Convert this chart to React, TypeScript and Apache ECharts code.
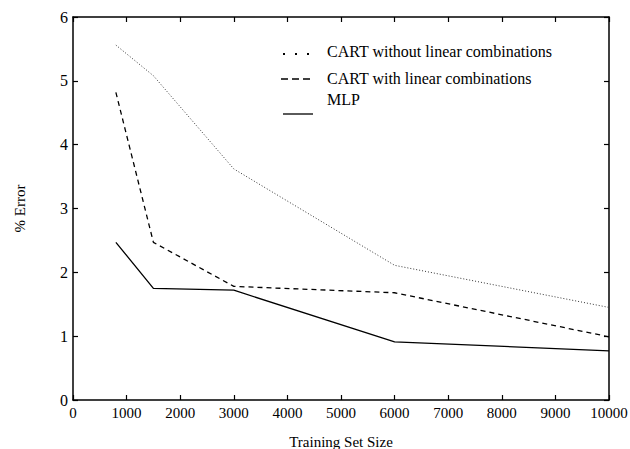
import React, { useEffect, useRef } from "react";
import * as echarts from "echarts";

const trainingSizes = [800, 1500, 3000, 6000, 10000];
const cartWithout = [5.56, 5.08, 3.62, 2.11, 1.45];
const cartWith = [4.82, 2.47, 1.78, 1.68, 0.99];
const mlp = [2.47, 1.75, 1.72, 0.91, 0.77];
const legendLabels = ["CART without linear combinations", "CART with linear combinations", "MLP"];

const FONT = "Liberation Serif";

export default function App() {
  const ref = useRef<HTMLDivElement>(null);
  useEffect(() => {
    if (!ref.current) return;
    const chart = echarts.init(ref.current, null, { renderer: "svg" });
    const pair = (ys: number[]) => trainingSizes.map((x, i) => [x, ys[i]]);
    const axisLine = { show: true, onZero: false, lineStyle: { color: "#000", width: 1.5 } };
    const axisTick = { show: true, inside: true, length: 5, lineStyle: { color: "#000", width: 1.2 } };
    chart.setOption({
      animation: false,
      backgroundColor: "#fff",
      grid: { left: 73, right: 21, top: 17, bottom: 49, containLabel: false, outerBoundsMode: "none" },
      xAxis: [
        {
          type: "value", min: 0, max: 10000, interval: 1000,
          axisLine, axisTick, splitLine: { show: false },
          axisLabel: { color: "#000", fontFamily: FONT, fontSize: 15, margin: 5, formatter: (v: number) => String(v) },
          name: "Training Set Size", nameLocation: "middle", nameGap: 34,
          nameTextStyle: { color: "#000", fontFamily: FONT, fontSize: 15 },
        },
        {
          type: "value", min: 0, max: 10000, interval: 1000, position: "top",
          axisLine, axisTick, splitLine: { show: false }, axisLabel: { show: false },
        },
      ],
      yAxis: [
        {
          type: "value", min: 0, max: 6, interval: 1,
          axisLine, axisTick, splitLine: { show: false },
          axisLabel: { color: "#000", fontFamily: FONT, fontSize: 16, margin: 5 },
          name: "% Error", nameLocation: "middle", nameGap: 46, nameRotate: 90,
          nameTextStyle: { color: "#000", fontFamily: FONT, fontSize: 15 },
        },
        {
          type: "value", min: 0, max: 6, interval: 1, position: "right",
          axisLine, axisTick, splitLine: { show: false }, axisLabel: { show: false },
        },
      ],
      series: [
        {
          type: "line", name: legendLabels[0], data: pair(cartWithout), showSymbol: false,
          lineStyle: { color: "#333", width: 1, type: [1, 2] },
        },
        {
          type: "line", name: legendLabels[1], data: pair(cartWith), showSymbol: false,
          lineStyle: { color: "#000", width: 1.3, type: [5, 4] },
        },
        {
          type: "line", name: legendLabels[2], data: pair(mlp), showSymbol: false,
          lineStyle: { color: "#000", width: 1.3 },
        },
      ],
      graphic: [
        { type: "line", shape: { x1: 283, y1: 54, x2: 313, y2: 54 }, style: { stroke: "#000", lineWidth: 2, lineDash: [2, 10] } },
        { type: "line", shape: { x1: 281, y1: 79, x2: 313, y2: 79 }, style: { stroke: "#000", lineWidth: 1.3, lineDash: [7, 4] } },
        { type: "line", shape: { x1: 283, y1: 114, x2: 313, y2: 114 }, style: { stroke: "#000", lineWidth: 1.3 } },
        { type: "text", x: 327, y: 51, style: { text: legendLabels[0], fill: "#000", font: `16px "${FONT}"`, verticalAlign: "middle" } },
        { type: "text", x: 327, y: 78, style: { text: legendLabels[1], fill: "#000", font: `16px "${FONT}"`, verticalAlign: "middle" } },
        { type: "text", x: 327, y: 99, style: { text: legendLabels[2], fill: "#000", font: `16px "${FONT}"`, verticalAlign: "middle" } },
      ],
    });
    return () => chart.dispose();
  }, []);
  return <div ref={ref} style={{ width: 630, height: 449, position: "absolute", left: 0, top: 0 }} />;
}
